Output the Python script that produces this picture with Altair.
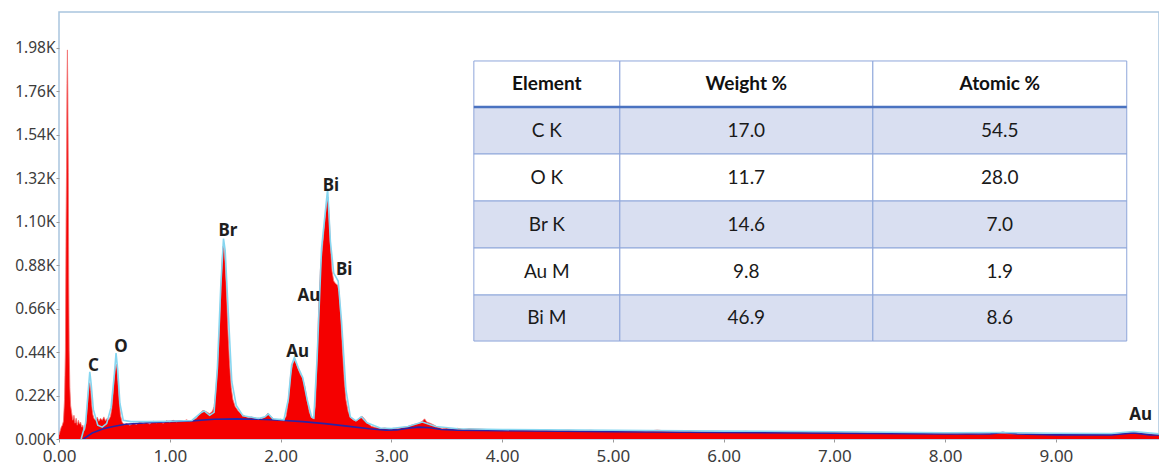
import altair as alt
import pandas as pd

# ---------------- data ----------------
# EDS spectrum: (energy keV, counts)
spectrum = [
    (0.000, 20), (0.010, 40), (0.020, 60), (0.030, 70), (0.040, 90), (0.050, 200),
    (0.058, 450), (0.064, 1100), (0.068, 1370), (0.072, 1800), (0.076, 1970),
    (0.080, 1750), (0.084, 1350), (0.088, 800), (0.092, 450), (0.098, 260),
    (0.105, 170), (0.115, 130), (0.125, 95), (0.135, 120), (0.145, 80),
    (0.155, 105), (0.165, 70), (0.175, 95), (0.185, 75), (0.195, 85),
    (0.205, 60), (0.215, 70), (0.225, 40), (0.235, 50), (0.245, 90),
    (0.255, 160), (0.265, 240), (0.272, 280), (0.279, 285), (0.287, 240),
    (0.296, 170), (0.305, 125), (0.315, 105), (0.330, 95), (0.345, 110),
    (0.360, 90), (0.375, 105), (0.390, 95), (0.405, 112), (0.420, 92),
    (0.435, 105), (0.450, 98), (0.465, 115), (0.478, 160), (0.490, 240),
    (0.500, 320), (0.510, 365), (0.518, 378), (0.526, 345), (0.535, 270),
    (0.545, 180), (0.555, 120), (0.570, 85), (0.590, 72), (0.610, 78),
    (0.640, 70), (0.670, 80), (0.700, 74), (0.730, 86), (0.760, 78),
    (0.790, 84), (0.820, 76), (0.850, 90), (0.880, 82), (0.910, 88),
    (0.940, 80), (0.970, 92), (1.000, 85), (1.030, 95), (1.060, 86),
    (1.090, 93), (1.120, 88), (1.150, 97), (1.180, 90), (1.210, 96),
    (1.240, 105), (1.270, 128), (1.300, 145), (1.330, 138), (1.360, 128),
    (1.385, 140), (1.400, 165), (1.415, 240), (1.430, 350), (1.445, 510),
    (1.460, 730), (1.470, 880), (1.480, 975), (1.490, 965), (1.500, 890),
    (1.510, 770), (1.525, 550), (1.540, 380), (1.555, 260), (1.570, 200),
    (1.590, 165), (1.620, 140), (1.650, 125), (1.680, 115), (1.710, 108),
    (1.740, 112), (1.770, 102), (1.800, 106), (1.830, 100), (1.860, 112),
    (1.885, 130), (1.910, 115), (1.940, 100), (1.970, 96), (2.000, 100),
    (2.030, 95), (2.050, 115), (2.070, 190), (2.090, 320), (2.110, 380),
    (2.125, 398), (2.140, 385), (2.160, 352), (2.180, 325), (2.200, 305),
    (2.220, 265), (2.240, 195), (2.260, 135), (2.280, 108), (2.300, 102),
    (2.315, 170), (2.330, 400), (2.345, 680), (2.360, 860), (2.380, 980),
    (2.400, 1110), (2.415, 1190), (2.428, 1225), (2.440, 1120), (2.450, 980),
    (2.465, 850), (2.480, 800), (2.500, 785), (2.515, 780), (2.530, 740),
    (2.545, 600), (2.560, 440), (2.575, 300), (2.590, 200), (2.610, 140),
    (2.630, 108), (2.660, 95), (2.690, 92), (2.715, 108), (2.735, 115),
    (2.760, 100), (2.790, 78), (2.820, 64), (2.860, 58), (2.900, 52),
    (2.940, 56), (2.980, 50), (3.020, 54), (3.060, 52), (3.100, 58),
    (3.140, 62), (3.180, 70), (3.220, 76), (3.250, 80), (3.280, 90),
    (3.300, 102), (3.320, 86), (3.350, 80), (3.380, 72), (3.420, 60),
    (3.460, 52), (3.500, 56), (3.550, 50), (3.600, 54), (3.650, 48),
    (3.700, 52), (3.800, 50), (3.900, 47), (4.000, 47), (4.100, 45),
    (4.200, 48), (4.300, 44), (4.400, 46), (4.500, 43), (4.600, 45),
    (4.700, 42), (4.800, 44), (4.900, 41), (5.000, 43), (5.100, 40),
    (5.200, 42), (5.300, 39), (5.400, 45), (5.500, 40), (5.600, 38),
    (5.700, 41), (5.800, 37), (5.900, 39), (6.000, 38), (6.100, 36),
    (6.200, 39), (6.300, 35), (6.400, 37), (6.500, 36), (6.600, 34),
    (6.700, 37), (6.800, 33), (6.900, 35), (7.000, 36), (7.100, 33),
    (7.200, 34), (7.300, 31), (7.400, 33), (7.500, 30), (7.600, 32),
    (7.700, 29), (7.800, 31), (7.900, 27), (8.000, 29), (8.100, 26),
    (8.200, 28), (8.300, 25), (8.400, 27), (8.500, 29), (8.600, 26),
    (8.700, 24), (8.800, 25), (8.900, 23), (9.000, 24), (9.100, 22),
    (9.200, 23), (9.300, 22), (9.400, 23), (9.500, 24), (9.600, 28),
    (9.700, 34), (9.800, 28), (9.930, 22),
]

# fitted spectrum envelope (light blue line)
fit = [
    (0.200, 0), (0.240, 80), (0.265, 250), (0.278, 340), (0.290, 280),
    (0.310, 150), (0.350, 70), (0.390, 60), (0.430, 78), (0.470, 160),
    (0.500, 330), (0.515, 435), (0.530, 350), (0.550, 180), (0.580, 95),
    (0.650, 88), (0.800, 88), (1.000, 90), (1.200, 94), (1.280, 132),
    (1.310, 142), (1.360, 120), (1.400, 135), (1.430, 360), (1.460, 770),
    (1.485, 1015), (1.500, 955), (1.530, 620), (1.560, 290), (1.600, 170),
    (1.660, 118), (1.800, 104), (1.860, 112), (1.890, 127), (1.930, 102),
    (2.030, 97), (2.070, 200), (2.100, 375), (2.125, 412), (2.160, 360),
    (2.200, 312), (2.240, 200), (2.280, 112), (2.300, 106), (2.330, 410),
    (2.370, 965), (2.425, 1265), (2.450, 1000), (2.480, 840), (2.520, 800),
    (2.550, 600), (2.590, 250), (2.630, 112), (2.680, 92), (2.730, 112),
    (2.780, 82), (2.900, 56), (3.000, 53), (3.150, 63), (3.280, 86),
    (3.400, 63), (3.600, 52), (4.000, 48), (5.000, 44), (6.000, 40),
    (7.000, 37), (8.000, 32), (8.500, 33), (9.000, 29), (9.500, 28),
    (9.700, 38), (9.930, 26),
]

# background (bremsstrahlung) curve, dark blue
background = [
    (0.220, 0), (0.300, 30), (0.400, 52), (0.500, 65), (0.600, 75),
    (0.800, 82), (1.000, 88), (1.200, 92), (1.400, 100), (1.600, 102),
    (1.800, 100), (2.000, 95), (2.200, 88), (2.400, 78), (2.600, 65),
    (2.800, 52), (2.950, 45), (3.050, 46), (3.150, 55), (3.250, 60),
    (3.350, 57), (3.450, 48), (3.600, 45), (4.000, 42), (5.000, 37),
    (6.000, 33), (7.000, 30), (8.000, 25), (8.400, 25), (8.520, 33),
    (8.650, 25), (9.000, 21), (9.500, 21), (9.700, 31), (9.850, 21),
    (9.930, 20),
]

# peak labels: (element, energy, counts)
peak_labels = [
    ("C", 0.31, 372), ("O", 0.56, 466), ("Br", 1.525, 1052), ("Au", 2.155, 440),
    ("Au", 2.255, 726), ("Bi", 2.455, 1282), ("Bi", 2.575, 856), ("Au", 9.765, 120),
]

# quantification table
table_header = ["Element", "Weight %", "Atomic %"]
table_elements = ["C K", "O K", "Br K", "Au M", "Bi M"]
table_weight = ["17.0", "11.7", "14.6", "9.8", "46.9"]
table_atomic = ["54.5", "28.0", "7.0", "1.9", "8.6"]

x_ticks = [0, 1, 2, 3, 4, 5, 6, 7, 8, 9]
y_ticks = [0, 220, 440, 660, 880, 1100, 1320, 1540, 1760, 1980]

# ---------------- layout constants ----------------
X_MAX = 9.93
Y_MAX = 2162
TABLE_COL_EDGES = [3.745, 5.063, 7.347, 9.639]          # in keV (plot coordinates)
TABLE_ROW_EDGES = [1914, 1681, 1443, 1205, 967, 729, 496]  # in counts

AXIS_FONT = "Noto Sans"
TABLE_FONT = "Lato"

x_scale = alt.Scale(domain=[0, X_MAX], nice=False, zero=False)
y_scale = alt.Scale(domain=[0, Y_MAX], nice=False)

spec_df = pd.DataFrame(spectrum, columns=["E", "counts"])
fit_df = pd.DataFrame(fit, columns=["E", "counts"])
bg_df = pd.DataFrame(background, columns=["E", "counts"])
lab_df = pd.DataFrame(peak_labels, columns=["label", "E", "counts"])

x_axis = alt.Axis(
    values=x_ticks, labelExpr="format(datum.value, '.2f')", title=None,
    labelFont=AXIS_FONT, labelFontSize=17, labelColor="#3c3c3c",
    tickColor="#9a9a9a", tickSize=3, domain=False, grid=False, labelPadding=6,
    labelFlush=False, labelOverlap=False,
)
y_axis = alt.Axis(
    values=y_ticks, labelExpr="format(datum.value / 1000, '.2f') + 'K'", title=None,
    labelFont=AXIS_FONT, labelFontSize=15.5, labelColor="#3c3c3c",
    tickColor="#9a9a9a", tickSize=3, domain=False, grid=False, labelPadding=1,
    labelFlush=False, labelOverlap=False,
)

area = alt.Chart(spec_df).mark_area(color="#F50000", clip=True).encode(
    x=alt.X("E:Q", scale=x_scale, axis=x_axis),
    y=alt.Y("counts:Q", scale=y_scale, axis=y_axis),
)
top_edge = alt.Chart(spec_df).mark_line(color="#F37070", strokeWidth=0.8, clip=True).encode(
    x=alt.X("E:Q", scale=x_scale, title=None),
    y=alt.Y("counts:Q", scale=y_scale, title=None),
)
bg_line = alt.Chart(bg_df).mark_line(color="#2A23A6", strokeWidth=1.6, clip=True).encode(
    x=alt.X("E:Q", scale=x_scale, title=None),
    y=alt.Y("counts:Q", scale=y_scale, title=None),
)
fit_line = alt.Chart(fit_df).mark_line(color="#86D6F0", strokeWidth=1.6, clip=True).encode(
    x=alt.X("E:Q", scale=x_scale, title=None),
    y=alt.Y("counts:Q", scale=y_scale, title=None),
)
labels = alt.Chart(lab_df).mark_text(
    font=AXIS_FONT, fontSize=17, fontWeight="bold", color="#1e1e1e", baseline="middle"
).encode(
    x=alt.X("E:Q", scale=x_scale, title=None),
    y=alt.Y("counts:Q", scale=y_scale, title=None),
    text="label:N",
)

# table cells
cells = []
texts = []
rows = [table_header] + [list(r) for r in zip(table_elements, table_weight, table_atomic)]
for ri, row in enumerate(rows):
    fill = "#D9DFF1" if ri % 2 == 1 else "#FFFFFF"
    for ci, val in enumerate(row):
        x0, x1 = TABLE_COL_EDGES[ci], TABLE_COL_EDGES[ci + 1]
        y0, y1 = TABLE_ROW_EDGES[ri], TABLE_ROW_EDGES[ri + 1]
        cells.append({"x0": x0, "x1": x1, "y0": y0, "y1": y1, "fill": fill})
        texts.append({"xc": (x0 + x1) / 2, "yc": (y0 + y1) / 2, "txt": val,
                      "head": ri == 0})
cells_df = pd.DataFrame(cells)
texts_df = pd.DataFrame(texts)

table_rect = alt.Chart(cells_df).mark_rect(stroke="#8EA6DA", strokeWidth=1).encode(
    x=alt.X("x0:Q", scale=x_scale, title=None),
    x2="x1:Q",
    y=alt.Y("y0:Q", scale=y_scale, title=None),
    y2="y1:Q",
    fill=alt.Fill("fill:N", scale=None),
)
header_rule_df = pd.DataFrame([{"x0": TABLE_COL_EDGES[0], "x1": TABLE_COL_EDGES[-1],
                                "y": TABLE_ROW_EDGES[1]}])
header_rule = alt.Chart(header_rule_df).mark_rule(color="#4A72C0", strokeWidth=2.5).encode(
    x=alt.X("x0:Q", scale=x_scale, title=None),
    x2="x1:Q",
    y=alt.Y("y:Q", scale=y_scale, title=None),
)
head_text = alt.Chart(texts_df[texts_df["head"]]).mark_text(
    font=TABLE_FONT, fontSize=19, fontWeight="bold", color="#111111", baseline="middle"
).encode(
    x=alt.X("xc:Q", scale=x_scale, title=None),
    y=alt.Y("yc:Q", scale=y_scale, title=None),
    text="txt:N",
)
body_text = alt.Chart(texts_df[~texts_df["head"]]).mark_text(
    font=TABLE_FONT, fontSize=19, color="#1a1a1a", baseline="middle"
).encode(
    x=alt.X("xc:Q", scale=x_scale, title=None),
    y=alt.Y("yc:Q", scale=y_scale, title=None),
    text="txt:N",
)

chart = alt.layer(
    area, top_edge, bg_line, fit_line, labels,
    table_rect, header_rule, head_text, body_text,
).properties(
    width=1100, height=427,
    padding={"left": 59, "top": 12, "right": 0, "bottom": 28},
    autosize=alt.AutoSizeParams(type="none"),
    background="#FFFFFF",
).configure_view(
    stroke="#A9C5DE", strokeWidth=1.5,
)

chart.save("out.html", embed_options={"renderer": "svg", "actions": False})
